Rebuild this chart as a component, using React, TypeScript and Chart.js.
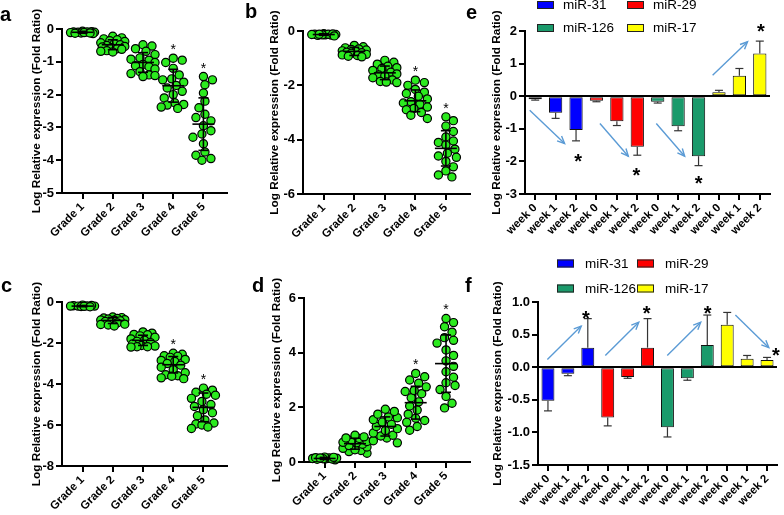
import React, { useEffect, useRef } from "react";
import { Chart, registerables } from "chart.js";

Chart.register(...registerables);

const FONT = "'Liberation Sans', Arial, Helvetica, sans-serif";
const GREEN = "#2BEA1E";
const ARROW_COLOR = "#5B9BD5";
const Y_TITLE = "Log Relative expression (Fold Ratio)";

// ---------- shared categories ----------
const GRADES = ["Grade 1", "Grade 2", "Grade 3", "Grade 4", "Grade 5"];
const WEEKS = ["week 0", "week 1", "week 2"];
const MIRS = ["miR-31", "miR-29", "miR-126", "miR-17"];
const MIR_COLORS = ["#0000FF", "#FF0000", "#1A9A6B", "#FFFF00"];
const SIG_GRADES = [false, false, false, true, true];

// ---------- panel a ----------
const A_DOTS = [
  [-0.07, -0.08, -0.09, -0.1, -0.1, -0.11, -0.12, -0.13, -0.14, -0.09, -0.11, -0.12],
  [-0.22, -0.27, -0.3, -0.33, -0.36, -0.38, -0.42, -0.45, -0.48, -0.5, -0.53, -0.55, -0.57, -0.6, -0.62, -0.66, -0.68, -0.7],
  [-0.48, -0.52, -0.6, -0.68, -0.78, -0.88, -0.92, -0.95, -1.02, -1.08, -1.12, -1.15, -1.22, -1.3, -1.36, -1.4, -1.42, -1.45],
  [-0.89, -0.95, -1.02, -1.2, -1.4, -1.52, -1.55, -1.62, -1.72, -1.8, -1.9, -2.0, -2.1, -2.25, -2.3, -2.32, -2.38, -2.42],
  [-1.45, -1.55, -1.7, -1.95, -2.2, -2.4, -2.6, -2.7, -2.8, -2.95, -3.1, -3.2, -3.3, -3.5, -3.75, -3.85, -3.95, -4.0],
];
const A_MEAN = [-0.1, -0.48, -1.02, -1.73, -2.9];
const A_SD = [0.03, 0.15, 0.3, 0.5, 0.8];
const A_TICKS = [0, -1, -2, -3, -4, -5];

// ---------- panel b ----------
const B_DOTS = [
  [-0.1, -0.12, -0.13, -0.14, -0.15, -0.12, -0.11, -0.16, -0.13, -0.14, -0.18, -0.12],
  [-0.53, -0.58, -0.62, -0.66, -0.68, -0.7, -0.73, -0.75, -0.78, -0.8, -0.82, -0.86, -0.88, -0.9, -0.93, -0.95],
  [-1.08, -1.15, -1.22, -1.3, -1.35, -1.38, -1.45, -1.52, -1.58, -1.62, -1.65, -1.72, -1.8, -1.86, -1.88, -1.9],
  [-1.81, -1.9, -2.0, -2.15, -2.25, -2.3, -2.4, -2.5, -2.6, -2.65, -2.7, -2.8, -2.85, -2.9, -3.0, -3.1, -3.22],
  [-3.16, -3.3, -3.5, -3.7, -3.9, -4.05, -4.1, -4.2, -4.35, -4.5, -4.6, -4.65, -4.8, -5.0, -5.15, -5.3, -5.37],
];
const B_MEAN = [-0.13, -0.75, -1.54, -2.57, -4.32];
const B_SD = [0.03, 0.15, 0.25, 0.4, 0.65];
const B_TICKS = [0, -2, -4, -6];

// ---------- panel c ----------
const C_DOTS = [
  [-0.15, -0.18, -0.2, -0.22, -0.2, -0.19, -0.21, -0.17, -0.23, -0.2],
  [-0.73, -0.76, -0.78, -0.8, -0.83, -0.86, -0.88, -0.89, -0.92, -0.95, -0.98, -1.02, -1.08, -1.1, -1.12, -1.17],
  [-1.46, -1.52, -1.58, -1.6, -1.65, -1.72, -1.8, -1.86, -1.92, -1.98, -2.05, -2.12, -2.15, -2.18, -2.18, -2.2],
  [-2.5, -2.55, -2.62, -2.65, -2.7, -2.8, -2.85, -2.9, -3.0, -3.08, -3.18, -3.3, -3.45, -3.55, -3.6, -3.62, -3.7, -3.74],
  [-4.2, -4.3, -4.4, -4.5, -4.55, -4.7, -4.85, -5.0, -5.1, -5.25, -5.4, -5.55, -5.75, -5.9, -5.95, -6.0, -6.1, -6.17],
];
const C_MEAN = [-0.2, -0.9, -1.87, -3.06, -5.14];
const C_SD = [0.03, 0.15, 0.25, 0.4, 0.7];
const C_TICKS = [0, -2, -4, -6, -8];

// ---------- panel d ----------
const D_DOTS = [
  [0.08, 0.1, 0.12, 0.13, 0.15, 0.16, 0.18, 0.14, 0.11, 0.17, 0.12, 0.15],
  [0.32, 0.38, 0.42, 0.45, 0.5, 0.55, 0.6, 0.65, 0.7, 0.72, 0.75, 0.8, 0.86, 0.88, 0.92, 0.98],
  [0.7, 0.78, 0.88, 0.95, 0.98, 1.06, 1.15, 1.22, 1.3, 1.38, 1.46, 1.55, 1.62, 1.65, 1.75, 1.85, 1.93],
  [1.16, 1.3, 1.45, 1.52, 1.6, 1.75, 1.9, 2.05, 2.2, 2.35, 2.5, 2.58, 2.62, 2.75, 2.88, 3.0, 3.12, 3.24],
  [1.98, 2.15, 2.4, 2.65, 2.8, 2.9, 3.1, 3.3, 3.5, 3.7, 3.9, 4.1, 4.35, 4.45, 4.55, 4.75, 4.95, 5.1, 5.25],
];
const D_MEAN = [0.13, 0.67, 1.3, 2.17, 3.6];
const D_SD = [0.04, 0.2, 0.35, 0.6, 1.05];
const D_TICKS = [0, 2, 4, 6];

// ---------- panel e ----------
const E_MIR31 = [-0.09, -0.51, -1.04];
const E_MIR29 = [-0.14, -0.77, -1.55];
const E_MIR126 = [-0.17, -0.92, -1.84];
const E_MIR17 = [0.12, 0.63, 1.31];
const E_ERR31 = [0.03, 0.17, 0.33];
const E_ERR29 = [0.03, 0.13, 0.26];
const E_ERR126 = [0.04, 0.14, 0.29];
const E_ERR17 = [0.06, 0.22, 0.38];
const E_TICKS = [2, 1, 0, -1, -2, -3];
// star anchors [category index, value]
const E_STARS = [[2.1, -1.86], [4.95, -2.27], [8, -2.52], [11.05, 2.13]];
// arrows [x1 index, y1 value, x2 index, y2 value]
const E_ARROWS = [
  [-0.27, -0.43, 1.44, -1.45],
  [3.17, -0.84, 4.56, -1.84],
  [5.93, -0.84, 7.32, -1.84],
  [8.69, 0.64, 10.4, 1.67],
];

// ---------- panel f ----------
const F_MIR31 = [-0.515, -0.1, 0.3];
const F_MIR29 = [-0.77, -0.15, 0.3];
const F_MIR126 = [-0.92, -0.17, 0.34];
const F_MIR17 = [0.65, 0.13, 0.11];
const F_ERR31 = [0.155, 0.03, 0.445];
const F_ERR29 = [0.13, 0.02, 0.445];
const F_ERR126 = [0.15, 0.03, 0.46];
const F_ERR17 = [0.19, 0.05, 0.04];
const F_TICKS = [1.0, 0.5, 0.0, -0.5, -1.0, -1.5];
const F_STARS = [[1.9, 0.82], [4.95, 0.9], [8.02, 0.9], [11.45, 0.26]];
const F_ARROWS = [
  [-0.03, 0.12, 1.67, 0.63],
  [2.88, 0.18, 4.56, 0.69],
  [5.99, 0.18, 7.67, 0.69],
  [9.41, 0.8, 11.09, 0.3],
];

// ---------- helpers ----------
const X_MIN = 0.32;
const X_MAX = 5.78;

type Box = { left: number; top: number; width: number; height: number };

type ScatterSpec = Box & {
  dots: number[][];
  mean: number[];
  sd: number[];
  yTicks: number[];
  letter: string;
  letterPos: [number, number];
  yw: number;
  xh: number;
  padTop: number;
  padRight: number;
  titleCenter: number;
};

type BarSpec = Box & {
  series: number[][];
  errs: number[][];
  yTicks: number[];
  decimals: number;
  stars: number[][];
  arrows: number[][];
  legendBoxX: number[];
  legendTextX: number[];
  legendRowY: number[];
  letter: string;
  letterPos: [number, number];
  yw: number;
  xh: number;
  padTop: number;
  padRight: number;
  titleCenter: number;
};

const bold = (size: number) => ({ family: FONT, size, weight: "bold" as any });

function drawStar(ctx: CanvasRenderingContext2D, cx: number, cy: number, size: number, weight: string) {
  ctx.font = `${weight} ${size}px ${FONT}`;
  ctx.textAlign = "center";
  ctx.textBaseline = "alphabetic";
  ctx.fillStyle = "#000";
  ctx.fillText("*", cx, cy + 0.57 * size);
}

function drawLetter(ctx: CanvasRenderingContext2D, letter: string, pos: [number, number]) {
  ctx.font = `bold 20px ${FONT}`;
  ctx.textAlign = "left";
  ctx.textBaseline = "alphabetic";
  ctx.fillStyle = "#000";
  ctx.fillText(letter, pos[0], pos[1]);
}

function line(ctx: CanvasRenderingContext2D, x1: number, y1: number, x2: number, y2: number) {
  ctx.beginPath();
  ctx.moveTo(x1, y1);
  ctx.lineTo(x2, y2);
  ctx.stroke();
}

function scatterPlugin(s: ScatterSpec) {
  return {
    id: "scatterAnnot",
    afterDatasetsDraw(chart: any) {
      const { ctx, scales } = chart;
      const x = scales.x;
      const y = scales.y;
      ctx.save();
      ctx.strokeStyle = "#000";
      ctx.lineWidth = 1.6;
      s.mean.forEach((m: number, g: number) => {
        const cx = x.getPixelForValue(g + 1);
        const my = y.getPixelForValue(m);
        const hi = y.getPixelForValue(m + s.sd[g]);
        const lo = y.getPixelForValue(m - s.sd[g]);
        line(ctx, cx - 11, my, cx + 11, my);
        line(ctx, cx, hi, cx, lo);
        line(ctx, cx - 5, hi, cx + 5, hi);
        line(ctx, cx - 5, lo, cx + 5, lo);
      });
      SIG_GRADES.forEach((sig, g) => {
        if (!sig) return;
        const cx = x.getPixelForValue(g + 1);
        const top = Math.min(...s.dots[g].map((v) => y.getPixelForValue(v)));
        drawStar(ctx, cx, top - 12, 14, "normal");
      });
      drawLetter(ctx, s.letter, s.letterPos);
      ctx.restore();
    },
  };
}

function scatterConfig(s: ScatterSpec): any {
  const data = s.dots.flatMap((arr, g) => arr.map((v) => ({ x: g + 1, y: v })));
  return {
    type: "scatter",
    data: {
      datasets: [
        {
          data,
          pointRadius: 4.1,
          pointHoverRadius: 4.1,
          pointBackgroundColor: GREEN,
          pointBorderColor: "#000",
          pointBorderWidth: 1.2,
          clip: false,
        },
      ],
    },
    options: {
      animation: false,
      responsive: false,
      devicePixelRatio: 1,
      events: [],
      layout: { padding: { top: s.padTop, right: s.padRight, left: 0, bottom: 0 } },
      plugins: { legend: { display: false }, tooltip: { enabled: false } },
      scales: {
        x: {
          type: "linear",
          min: X_MIN,
          max: X_MAX,
          afterBuildTicks: (sc: any) => {
            sc.ticks = GRADES.map((_, i) => ({ value: i + 1 }));
          },
          afterFit: (sc: any) => {
            sc.height = s.xh;
          },
          ticks: {
            callback: (v: any) => GRADES[Math.round(v) - 1],
            font: bold(11.5),
            color: "#000",
            minRotation: 45,
            maxRotation: 45,
            autoSkip: false,
            padding: 1,
          },
          grid: { drawOnChartArea: false, tickLength: 6, color: "#000", lineWidth: 2 },
          border: { color: "#000", width: 2 },
        },
        y: {
          min: Math.min(...s.yTicks),
          max: Math.max(...s.yTicks),
          afterBuildTicks: (sc: any) => {
            sc.ticks = s.yTicks.map((v) => ({ value: v }));
          },
          afterFit: (sc: any) => {
            sc.width = s.yw;
          },
          ticks: { font: bold(13), color: "#000", padding: 2, callback: (v: any) => String(v) },
          grid: { drawOnChartArea: false, tickLength: 6, color: "#000", lineWidth: 2 },
          border: { color: "#000", width: 2 },
          title: {
            display: true,
            text: Y_TITLE,
            font: bold(11.8),
            color: "#000",
            padding: { top: s.titleCenter - 7, bottom: 0 },
          },
        },
      },
    },
    plugins: [scatterPlugin(s)],
  };
}

// beeswarm layout of dots (pixel offsets), computed from the values through the scale
function swarm(py: number[], r: number, limit: number): number[] {
  const order = py.map((_, i) => i).sort((a, b) => py[a] - py[b]);
  const placed: { x: number; y: number }[] = [];
  const out = new Array(py.length).fill(0);
  const minD = 2 * r * 0.9;
  const cands: number[] = [0];
  for (let k = 1; k * 1.5 <= limit; k++) cands.push(k * 1.5, -k * 1.5);
  for (const i of order) {
    const y = py[i];
    let best = 0;
    let bestD = -1;
    for (const c of cands) {
      let d = Infinity;
      for (const p of placed) {
        const dd = Math.hypot(p.x - c, p.y - y);
        if (dd < d) d = dd;
      }
      if (d >= minD) {
        best = c;
        bestD = d;
        break;
      }
      if (d > bestD) {
        bestD = d;
        best = c;
      }
    }
    placed.push({ x: best, y });
    out[i] = best;
  }
  return out;
}

function applySwarm(chart: any, s: ScatterSpec) {
  const x = chart.scales.x;
  const y = chart.scales.y;
  const unitX = x.getPixelForValue(2) - x.getPixelForValue(1);
  const pts: { x: number; y: number }[] = [];
  s.dots.forEach((arr, g) => {
    const offs = swarm(
      arr.map((v) => y.getPixelForValue(v)),
      4.6,
      12
    );
    arr.forEach((v, i) => pts.push({ x: g + 1 + offs[i] / unitX, y: v }));
  });
  chart.data.datasets[0].data = pts;
  chart.update("none");
}

function drawArrow(ctx: CanvasRenderingContext2D, x1: number, y1: number, x2: number, y2: number) {
  line(ctx, x1, y1, x2, y2);
  const a = Math.atan2(y2 - y1, x2 - x1);
  const h = 8;
  ctx.beginPath();
  ctx.moveTo(x2 - h * Math.cos(a - 0.42), y2 - h * Math.sin(a - 0.42));
  ctx.lineTo(x2, y2);
  ctx.lineTo(x2 - h * Math.cos(a + 0.42), y2 - h * Math.sin(a + 0.42));
  ctx.stroke();
}

function barPlugin(b: BarSpec) {
  const values = b.series.flat();
  const errs = b.errs.flat();
  return {
    id: "barAnnot",
    afterDatasetsDraw(chart: any) {
      const { ctx, scales } = chart;
      const x = scales.x;
      const y = scales.y;
      ctx.save();
      ctx.strokeStyle = "#333";
      ctx.lineWidth = 1.2;
      values.forEach((v, i) => {
        const end = v >= 0 ? v + errs[i] : v - errs[i];
        const cx = x.getPixelForValue(i);
        const y0 = y.getPixelForValue(v);
        const y1 = y.getPixelForValue(end);
        line(ctx, cx, y0, cx, y1);
        line(ctx, cx - 4, y1, cx + 4, y1);
      });
      ctx.restore();
    },
    afterDraw(chart: any) {
      const { ctx, scales } = chart;
      const x = scales.x;
      const y = scales.y;
      ctx.save();
      b.stars.forEach(([i, v]) => drawStar(ctx, x.getPixelForValue(i), y.getPixelForValue(v), 20, "bold"));
      ctx.strokeStyle = ARROW_COLOR;
      ctx.lineWidth = 1.4;
      b.arrows.forEach(([i1, v1, i2, v2]) =>
        drawArrow(ctx, x.getPixelForValue(i1), y.getPixelForValue(v1), x.getPixelForValue(i2), y.getPixelForValue(v2))
      );
      MIRS.forEach((name, i) => {
        const col = i % 2;
        const row = Math.floor(i / 2);
        const bx = b.legendBoxX[col];
        const cy = b.legendRowY[row];
        ctx.fillStyle = MIR_COLORS[i];
        ctx.fillRect(bx, cy - 4, 17, 8);
        ctx.strokeStyle = "#222";
        ctx.lineWidth = 1;
        ctx.strokeRect(bx + 0.5, cy - 3.5, 16, 7);
        ctx.fillStyle = "#000";
        ctx.font = `13.5px ${FONT}`;
        ctx.textAlign = "left";
        ctx.textBaseline = "middle";
        ctx.fillText(name, b.legendTextX[col], cy + 0.5);
      });
      drawLetter(ctx, b.letter, b.letterPos);
      ctx.restore();
    },
  };
}

function barConfig(b: BarSpec): any {
  const labels = b.series.flatMap(() => WEEKS);
  const values = b.series.flat();
  const colors = b.series.flatMap((arr, s) => arr.map(() => MIR_COLORS[s]));
  return {
    type: "bar",
    data: {
      labels,
      datasets: [
        {
          data: values,
          backgroundColor: colors,
          borderColor: "#111",
          borderWidth: 1,
          borderSkipped: false,
          categoryPercentage: 1,
          barPercentage: 0.65,
        },
      ],
    },
    options: {
      animation: false,
      responsive: false,
      devicePixelRatio: 1,
      events: [],
      layout: { padding: { top: b.padTop, right: b.padRight, left: 0, bottom: 0 } },
      plugins: { legend: { display: false }, tooltip: { enabled: false } },
      scales: {
        x: {
          offset: true,
          afterFit: (sc: any) => {
            sc.height = b.xh;
          },
          ticks: {
            font: bold(11.5),
            color: "#000",
            minRotation: 45,
            maxRotation: 45,
            autoSkip: false,
            padding: 1,
          },
          grid: { offset: false, drawOnChartArea: false, tickLength: 6, color: "#000", lineWidth: 2 },
          border: { color: "#000", width: 2 },
        },
        y: {
          min: Math.min(...b.yTicks),
          max: Math.max(...b.yTicks),
          afterBuildTicks: (sc: any) => {
            sc.ticks = b.yTicks.map((v) => ({ value: v }));
          },
          afterFit: (sc: any) => {
            sc.width = b.yw;
          },
          ticks: {
            font: bold(13),
            color: "#000",
            padding: 2,
            callback: (v: any) => Number(v).toFixed(b.decimals),
          },
          grid: {
            drawOnChartArea: true,
            color: (c: any) => (c.tick && c.tick.value === 0 ? "#000" : "rgba(0,0,0,0)"),
            lineWidth: 2,
            tickColor: "#000",
            tickWidth: 2,
            tickLength: 6,
          },
          border: { color: "#000", width: 2 },
          title: {
            display: true,
            text: Y_TITLE,
            font: bold(11.8),
            color: "#000",
            padding: { top: b.titleCenter - 7, bottom: 0 },
          },
        },
      },
    },
    plugins: [barPlugin(b)],
  };
}

// ---------- panel specs ----------
const PANEL_A: ScatterSpec = {
  left: 0, top: 0, width: 240, height: 255,
  dots: A_DOTS, mean: A_MEAN, sd: A_SD, yTicks: A_TICKS,
  letter: "a", letterPos: [0, 21],
  yw: 62, xh: 62, padTop: 29, padRight: 13, titleCenter: 37,
};
const PANEL_B: ScatterSpec = {
  left: 240, top: 0, width: 235, height: 255,
  dots: B_DOTS, mean: B_MEAN, sd: B_SD, yTicks: B_TICKS,
  letter: "b", letterPos: [5, 18],
  yw: 63, xh: 61, padTop: 31, padRight: 3, titleCenter: 35,
};
const PANEL_C: ScatterSpec = {
  left: 0, top: 255, width: 240, height: 260,
  dots: C_DOTS, mean: C_MEAN, sd: C_SD, yTicks: C_TICKS,
  letter: "c", letterPos: [1, 37],
  yw: 62, xh: 49, padTop: 47, padRight: 13, titleCenter: 37,
};
const PANEL_D: ScatterSpec = {
  left: 240, top: 255, width: 235, height: 260,
  dots: D_DOTS, mean: D_MEAN, sd: D_SD, yTicks: D_TICKS,
  letter: "d", letterPos: [12, 37],
  yw: 64, xh: 53, padTop: 43, padRight: 3, titleCenter: 37,
};
const PANEL_E: BarSpec = {
  left: 465, top: 0, width: 319, height: 255,
  series: [E_MIR31, E_MIR29, E_MIR126, E_MIR17],
  errs: [E_ERR31, E_ERR29, E_ERR126, E_ERR17],
  yTicks: E_TICKS, decimals: 0, stars: E_STARS, arrows: E_ARROWS,
  legendBoxX: [72, 162], legendTextX: [98, 188], legendRowY: [5, 28],
  letter: "e", letterPos: [1, 19],
  yw: 60, xh: 61, padTop: 31, padRight: 14, titleCenter: 32,
};
const PANEL_F: BarSpec = {
  left: 465, top: 255, width: 319, height: 260,
  series: [F_MIR31, F_MIR29, F_MIR126, F_MIR17],
  errs: [F_ERR31, F_ERR29, F_ERR126, F_ERR17],
  yTicks: F_TICKS, decimals: 1, stars: F_STARS, arrows: F_ARROWS,
  legendBoxX: [92, 172], legendTextX: [120, 200], legendRowY: [8.5, 33.5],
  letter: "f", letterPos: [0, 37],
  yw: 73, xh: 50, padTop: 47, padRight: 7, titleCenter: 33,
};

function ScatterPanel({ spec }: { spec: ScatterSpec }) {
  const ref = useRef<HTMLCanvasElement>(null);
  useEffect(() => {
    const chart = new Chart(ref.current as HTMLCanvasElement, scatterConfig(spec));
    applySwarm(chart, spec);
    return () => chart.destroy();
  }, [spec]);
  return (
    <div style={{ position: "absolute", left: spec.left, top: spec.top, width: spec.width, height: spec.height }}>
      <canvas ref={ref} width={spec.width} height={spec.height} style={{ width: spec.width, height: spec.height, display: "block" }} />
    </div>
  );
}

function BarPanel({ spec }: { spec: BarSpec }) {
  const ref = useRef<HTMLCanvasElement>(null);
  useEffect(() => {
    const chart = new Chart(ref.current as HTMLCanvasElement, barConfig(spec));
    return () => chart.destroy();
  }, [spec]);
  return (
    <div style={{ position: "absolute", left: spec.left, top: spec.top, width: spec.width, height: spec.height }}>
      <canvas ref={ref} width={spec.width} height={spec.height} style={{ width: spec.width, height: spec.height, display: "block" }} />
    </div>
  );
}

export default function App() {
  return (
    <div style={{ position: "fixed", left: 0, top: 0, width: 784, height: 515, background: "#fff", overflow: "hidden" }}>
      <ScatterPanel spec={PANEL_A} />
      <ScatterPanel spec={PANEL_B} />
      <ScatterPanel spec={PANEL_C} />
      <ScatterPanel spec={PANEL_D} />
      <BarPanel spec={PANEL_E} />
      <BarPanel spec={PANEL_F} />
    </div>
  );
}
